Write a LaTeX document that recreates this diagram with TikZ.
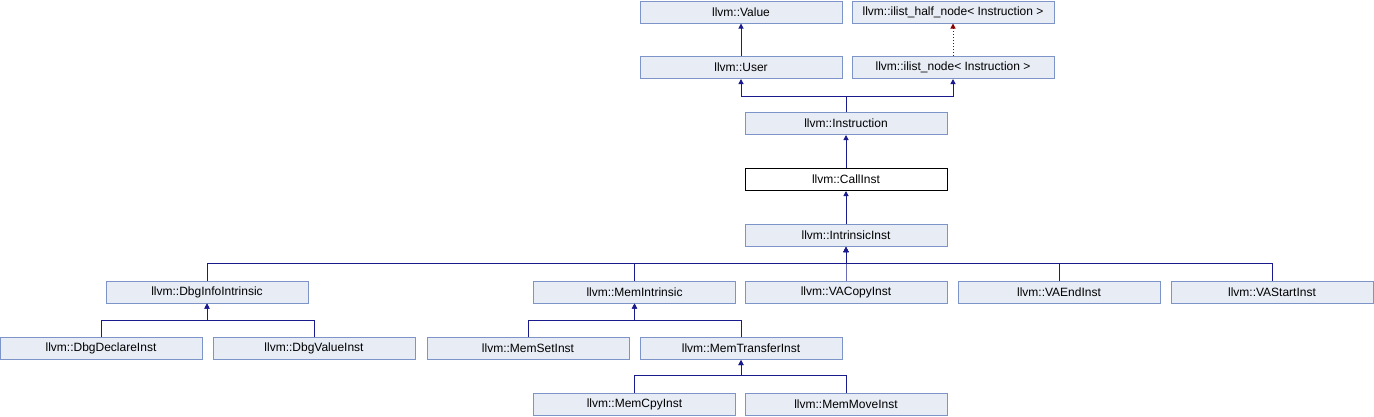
\documentclass[tikz,border=0pt]{standalone}
\usepackage{fontspec}
\setmainfont{Liberation Sans}
\usetikzlibrary{arrows.meta}
\definecolor{BoxFill}{HTML}{E8ECF5}
\definecolor{BoxLine}{HTML}{7D94C9}
\definecolor{EdgeBlue}{HTML}{1A1A8F}
\definecolor{EdgeRed}{HTML}{8B0000}

\tikzset{
  cls/.style={draw=BoxLine,fill=BoxFill,line width=1pt,minimum width=202pt,
    minimum height=22pt,inner sep=0pt,font=\fontsize{12}{14}\selectfont},
  cur/.style={cls,draw=black,fill=white},
  inh/.style={draw=EdgeBlue,line width=1pt,-{Triangle[length=5pt,width=5pt]}},
  tpl/.style={draw=EdgeRed,line width=1pt,dotted,-{Triangle[length=5pt,width=5pt]}}
}

\begin{document}
\begin{tikzpicture}[x=1pt,y=-1pt]
    \useasboundingbox (0,0) rectangle (1374,416);
    % top rows
    \node[cls] (value) at (741,12) {llvm::Value};
    \node[cls] (halfnode) at (953,12) {llvm::ilist\_half\_node< Instruction >};
    \node[cls] (user) at (741,67.5) {llvm::User};
    \node[cls] (ilistnode) at (953,67.5) {llvm::ilist\_node< Instruction >};
    \node[cls] (instr) at (846,123.5) {llvm::Instruction};
    \node[cur] (callinst) at (846,179.5) {llvm::CallInst};
    \node[cls] (intrinsic) at (846,235.5) {llvm::IntrinsicInst};
    % intrinsic subclasses
    \node[cls] (dbginfo) at (207,292) {llvm::DbgInfoIntrinsic};
    \node[cls] (memintr) at (634.5,292) {llvm::MemIntrinsic};
    \node[cls] (vacopy) at (846,292) {llvm::VACopyInst};
    \node[cls] (vaend) at (1059,292) {llvm::VAEndInst};
    \node[cls] (vastart) at (1272,292) {llvm::VAStartInst};
    \node[cls] (dbgdecl) at (101,348.5) {llvm::DbgDeclareInst};
    \node[cls] (dbgvalue) at (314,348.5) {llvm::DbgValueInst};
    \node[cls] (memset) at (528,348.5) {llvm::MemSetInst};
    \node[cls] (memtransfer) at (741,348.5) {llvm::MemTransferInst};
    \node[cls] (memcpy) at (634.5,404) {llvm::MemCpyInst};
    \node[cls] (memmove) at (846,404) {llvm::MemMoveInst};

    \draw[inh] (user) -- (value);
    \draw[tpl] (ilistnode) -- (halfnode);
    \draw[inh] (instr.north) -- ++(0,-16) -| (user.south);
    \draw[inh] (instr.north) -- ++(0,-16) -| (ilistnode.south);
    \draw[inh] (callinst) -- (instr);
    \draw[inh] (intrinsic) -- (callinst);
    \foreach \c in {dbginfo,memintr,vacopy,vaend,vastart}
      \draw[inh] (\c.north) -- ++(0,-17) -| (intrinsic.south);
    \foreach \c in {dbgdecl,dbgvalue}
      \draw[inh] (\c.north) -- ++(0,-17) -| (dbginfo.south);
    \foreach \c in {memset,memtransfer}
      \draw[inh] (\c.north) -- ++(0,-17) -| (memintr.south);
    \foreach \c in {memcpy,memmove}
      \draw[inh] (\c.north) -- ++(0,-17) -| (memtransfer.south);
  \end{tikzpicture}
\end{document}
